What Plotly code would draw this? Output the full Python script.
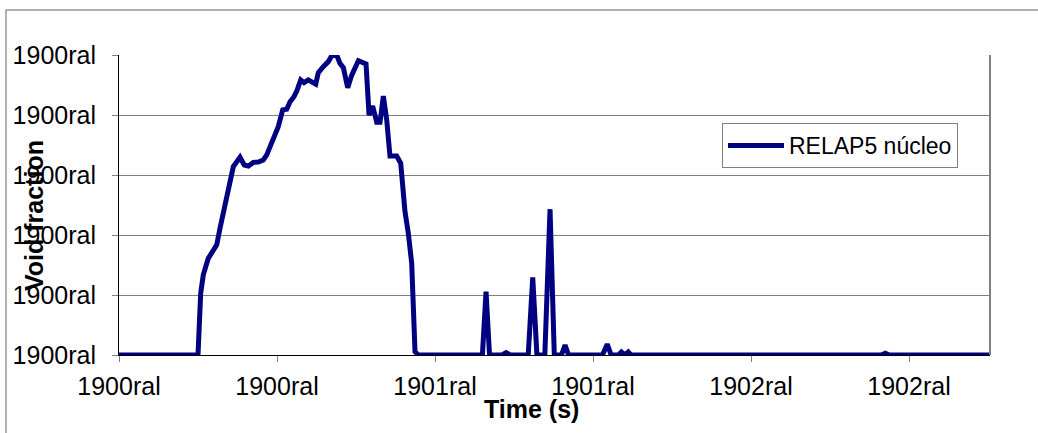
import plotly.graph_objects as go

# Data
time_s = [0, 100, 103.4, 106.7, 113, 119.4, 123.7, 127.8, 134.2, 140.5, 144.7, 153.2,
          158.6, 163.7, 170, 176.3, 182.7, 187, 191.1, 197.5, 201.6, 207.2, 212.3, 216.5,
          221.5, 225, 230, 234.2, 239.6, 249, 252.3, 258.6, 265, 269.2, 275.6, 279.7, 284,
          289.5, 294.6, 303, 312.7, 316.5, 321.1, 326.2, 330.4, 334.6, 338.9, 343, 351.5,
          356.6, 362, 366.2, 370.5, 374.7, 378.9,
          460, 464.6, 469, 485, 490, 495, 518, 523.7, 529, 539, 545.6, 551, 560, 564.6,
          569, 612, 618, 623, 632, 636, 640, 644.6, 648, 965, 970, 975, 1102.5]
void_frac = [0, 0, 0.206, 0.267, 0.322, 0.35, 0.367, 0.422, 0.506, 0.578, 0.628, 0.659,
             0.633, 0.63, 0.642, 0.643, 0.65, 0.667, 0.694, 0.728, 0.761, 0.817, 0.819, 0.844,
             0.861, 0.88, 0.917, 0.908, 0.917, 0.903, 0.941, 0.961, 0.978, 0.997, 1.0, 0.972, 0.958,
             0.891, 0.933, 0.981, 0.97, 0.8, 0.83, 0.776, 0.776, 0.863, 0.783, 0.663, 0.663,
             0.639, 0.478, 0.406, 0.306, 0.011, 0.0,
             0, 0.211, 0, 0, 0.008, 0, 0, 0.259, 0, 0, 0.486, 0, 0, 0.033,
             0, 0, 0.036, 0, 0, 0.01, 0, 0.01, 0, 0, 0.006, 0, 0]

x_tickvals = [0, 200, 400, 600, 800, 1000]
x_ticktext = ["1900ral", "1900ral", "1901ral", "1901ral", "1902ral", "1902ral"]
y_tickvals = [0, 0.2, 0.4, 0.6, 0.8, 1.0]
y_ticktext = ["1900ral"] * 6

FONT = "Liberation Sans, Arial, sans-serif"

fig = go.Figure()
fig.add_trace(go.Scatter(x=time_s, y=void_frac, mode="lines", name="RELAP5 núcleo",
                         line=dict(color="#000080", width=5)))

L, R, T, B = 119, 48, 55, 78
W, H = 1038, 433
pw, ph = W - L - R, H - T - B

def px2paper_x(px):
    return (px - L) / pw

def py2paper_y(py):
    return (H - B - py) / ph

fig.update_layout(
    width=W, height=H,
    margin=dict(l=L, r=R, t=T, b=B),
    paper_bgcolor="white", plot_bgcolor="white",
    font=dict(family=FONT, color="black", size=25),
    showlegend=True,
    legend=dict(x=px2paper_x(722), y=py2paper_y(123), xanchor="left", yanchor="top",
                bordercolor="#808080", borderwidth=1, bgcolor="white",
                font=dict(size=23, family=FONT), itemwidth=56,
                tracegroupgap=0),
    xaxis=dict(range=[0, 1102.5], tickvals=x_tickvals, ticktext=x_ticktext,
               showgrid=False, zeroline=False, showline=True, linecolor="black", linewidth=1,
               ticks="outside", ticklen=6, tickcolor="#808080", tickfont=dict(size=25),
               ticklabelstandoff=3),
    yaxis=dict(range=[0, 1], tickvals=y_tickvals, ticktext=y_ticktext,
               showgrid=True, gridcolor="#808080", gridwidth=1, zeroline=False,
               showline=True, linecolor="black", linewidth=1,
               ticks="outside", ticklen=6, tickcolor="#808080", tickfont=dict(size=25),
               ticklabelstandoff=11),
    annotations=[
        dict(text="<b>Time (s)</b>", x=px2paper_x(531), y=py2paper_y(409), xref="paper", yref="paper",
             showarrow=False, font=dict(size=25, family=FONT), xanchor="center", yanchor="middle"),
        dict(text="<b>Void fraction</b>", x=px2paper_x(34), y=py2paper_y(216), xref="paper", yref="paper",
             showarrow=False, font=dict(size=25, family=FONT), textangle=-90,
             xanchor="center", yanchor="middle"),
    ],
    shapes=[
        # right border of plot area
        dict(type="line", xref="paper", yref="paper", x0=1, x1=1, y0=0, y1=1,
             line=dict(color="#808080", width=2)),
        # outer chart frame (left and top)
        dict(type="line", xref="paper", yref="paper", x0=px2paper_x(6), x1=px2paper_x(6),
             y0=py2paper_y(10), y1=py2paper_y(440), line=dict(color="#606060", width=1)),
        dict(type="line", xref="paper", yref="paper", x0=px2paper_x(6), x1=px2paper_x(1045),
             y0=py2paper_y(10), y1=py2paper_y(10), line=dict(color="#606060", width=1)),
    ],
)

fig.write_html("out.html", config={"displayModeBar": False},
               post_script="document.body.style.margin='0';")
